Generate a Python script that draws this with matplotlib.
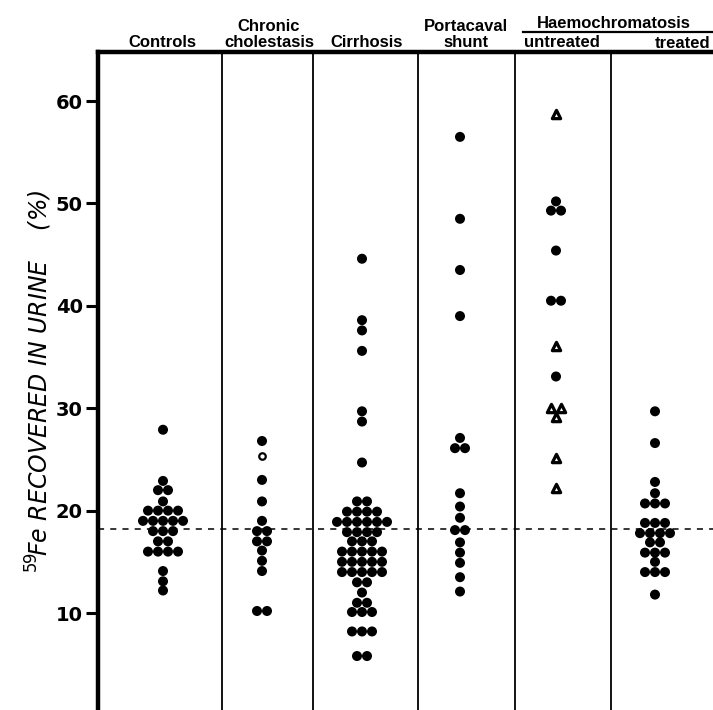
import numpy as np
import matplotlib
matplotlib.use("Agg")
import matplotlib.pyplot as plt

# VALUES (% 59Fe recovered in urine)
controls = [27.9, 22.9, 22.0, 22.0, 20.9,
            20.0, 20.0, 20.0, 20.0,
            19.0, 19.0, 19.0, 19.0, 19.0,
            18.0, 18.0, 18.0, 17.0, 17.0,
            16.0, 16.0, 16.0, 16.0, 14.1, 13.1, 12.2]

cholestasis = [26.8, 23.0, 20.9, 19.0, 18.0, 18.0, 17.0, 17.0,
               16.1, 15.1, 14.1, 10.2, 10.2]
cholestasis_open = [25.3]

cirrhosis = [44.6, 38.6, 37.6, 35.6, 29.7, 28.7, 24.7,
             20.9, 20.9,
             19.9, 19.9, 19.9, 19.9,
             18.9, 18.9, 18.9, 18.9, 18.9, 18.9,
             17.9, 17.9, 17.9, 17.9,
             17.0, 17.0, 17.0,
             16.0, 16.0, 16.0, 16.0, 16.0,
             15.0, 15.0, 15.0, 15.0, 15.0,
             14.0, 14.0, 14.0, 14.0, 14.0,
             13.0, 13.0, 12.0, 11.0, 11.0,
             10.1, 10.1, 10.1, 8.2, 8.2, 8.2, 5.8, 5.8]

portacaval = [56.5, 48.5, 43.5, 39.0, 27.1, 26.1, 26.1, 21.7, 20.4,
              19.3, 18.1, 18.1, 16.9, 15.9, 14.9, 13.5, 12.1]

haemo_untreated_dots = [50.2, 49.3, 49.3, 45.4, 40.5, 40.5, 33.1]
haemo_untreated_tri = [58.7, 36.1, 30.0, 30.0, 29.1, 25.1, 22.2]

haemo_treated = [29.7, 26.6, 22.8, 21.7, 20.7, 20.7, 20.7,
                 18.8, 18.8, 18.8, 17.8, 17.8, 17.8, 17.8,
                 16.9, 16.9, 15.9, 15.9, 15.9, 15.0,
                 14.0, 14.0, 14.0, 11.8]

mean_line = 18.2

headers = ["Controls", "Chronic\ncholestasis", "Cirrhosis", "Portacaval\nshunt"]
y_ticks = [10, 20, 30, 40, 50, 60]

# LAYOUT (x in pixel-like units from the left spine)
col_centers = [65, 164, 264, 362, 458, 557]
header_x = [64, 171, 269, 368]
col_borders = [124, 215, 320, 417, 513]
step = 10.0


def swarm(values, x0):
    # put equal values side by side, centred on the column
    values = np.asarray(values)
    xs = np.zeros(len(values))
    for v in np.unique(values):
        idx = np.where(values == v)[0]
        n = len(idx)
        xs[idx] = x0 + (np.arange(n) - (n - 1) / 2) * step
    return xs, values


label_font = ["Liberation Sans", "DejaVu Sans"]
hdr_kw = dict(fontsize=12, family=label_font, fontweight="bold",
              ha="center", va="baseline")

fig = plt.figure(figsize=(7.13, 7.10), dpi=100)
ax = fig.add_axes([98 / 713, 0.0, 1 - 98 / 713, 1 - 52 / 710])

dot_kw = dict(s=52, color="black", edgecolors="none", zorder=3)

for vals, xc in [(controls, col_centers[0]), (cholestasis, col_centers[1]),
                 (cirrhosis, col_centers[2]), (portacaval, col_centers[3]),
                 (haemo_treated, col_centers[5])]:
    x, y = swarm(vals, xc)
    ax.scatter(x, y, **dot_kw)

x, y = swarm(cholestasis_open, col_centers[1])
ax.scatter(x, y, s=22, facecolors="white", edgecolors="black", linewidths=1.6, zorder=3)

# untreated: dots and triangles share one column
x, y = swarm(haemo_untreated_dots, col_centers[4])
ax.scatter(x, y, **dot_kw)
x, y = swarm(haemo_untreated_tri, col_centers[4])
ax.scatter(x, y, s=36, marker="^", facecolors="white", edgecolors="black",
           linewidths=2.3, zorder=3)

# column borders and dashed reference line
for b in col_borders:
    ax.axvline(b, color="black", lw=1.3, zorder=1)
ax.axhline(mean_line, color="black", lw=1.1, ls=(0, (4, 4)), zorder=2)

ax.set_xlim(0, 615)
ax.set_ylim(0.53, 64.79)
ax.set_xticks([])
ax.set_yticks(y_ticks)
ax.set_yticklabels([str(t) for t in y_ticks], fontsize=14, fontweight="bold")
ax.tick_params(axis="y", direction="out", length=9, width=2.2, pad=2)

for side in ["right", "bottom"]:
    ax.spines[side].set_visible(False)
ax.spines["left"].set_linewidth(3.2)
ax.spines["top"].set_linewidth(3.2)

ax.set_ylabel(r"$^{59}\!Fe$ RECOVERED IN URINE    (%)", fontsize=17,
              style="italic", labelpad=1)

# column headings above the frame
trans = ax.get_xaxis_transform()
for txt, xc in zip(headers, header_x):
    ax.text(xc, 1.008, txt, transform=trans, linespacing=1.05, **hdr_kw)
ax.text(464, 1.008, "untreated", transform=trans, **hdr_kw)
ax.text(585, 1.006, "treated", transform=trans, **hdr_kw)
ax.text(516, 1.037, "Haemochromatosis", transform=trans, **hdr_kw)
ax.plot([425, 615], [1.0305, 1.0305], transform=trans, color="black", lw=1.6,
        clip_on=False)

fig.savefig("out.png", dpi=100)
